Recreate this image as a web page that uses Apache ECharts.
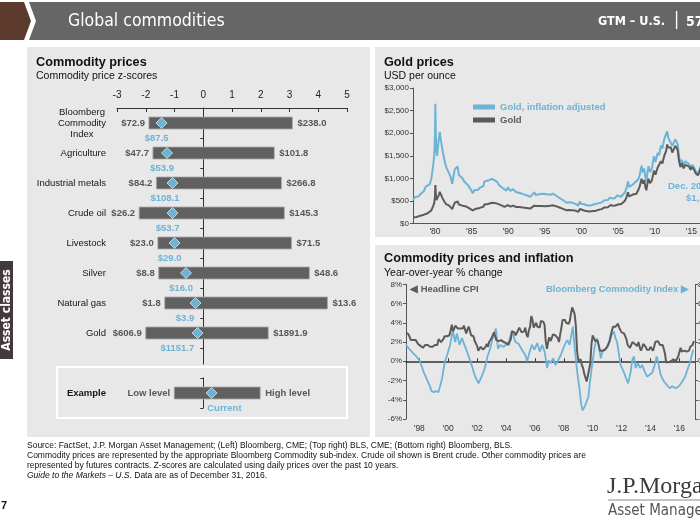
<!DOCTYPE html>
<html><head><meta charset="utf-8">
<script src="https://cdn.jsdelivr.net/npm/echarts@6.0.0/dist/echarts.min.js"></script>
<style>html,body{margin:0;padding:0;background:#fff;}#c{width:700px;height:525px;}</style>
</head><body><div id="c"></div><script>
// ---------- Left: commodity z-scores ----------
const categories = ['Bloomberg\nCommodity\nIndex', 'Agriculture', 'Industrial metals', 'Crude oil', 'Livestock', 'Silver', 'Natural gas', 'Gold', '', 'Example'];
const rowIndex   = [0, 1, 2, 3, 4, 5, 6, 7, 9];
const lowZ       = [-1.89, -1.75, -1.63, -2.23, -1.58, -1.55, -1.34, -2.00, -1.01];
const highZ      = [3.10, 2.47, 2.72, 2.82, 3.07, 3.69, 4.32, 2.26, 1.98];
const currentZ   = [-1.45, -1.26, -1.07, -1.07, -1.00, -0.60, -0.27, -0.20, 0.29];
const lowLabels  = ['$72.9', '$47.7', '$84.2', '$26.2', '$23.0', '$8.8', '$1.8', '$606.9', 'Low level'];
const highLabels = ['$238.0', '$101.8', '$266.8', '$145.3', '$71.5', '$48.6', '$13.6', '$1891.9', 'High level'];
const currentLabels = ['$87.5', '$53.9', '$108.1', '$53.7', '$29.0', '$16.0', '$3.9', '$1151.7', 'Current'];

// ---------- Top right: gold prices ----------
const goldYears = [1977.00,1977.25,1977.50,1977.75,1978.00,1978.25,1978.50,1978.75,1979.00,1979.25,1979.50,1979.75,1979.90,1980.00,1980.05,1980.12,1980.20,1980.30,1980.40,1980.55,1980.65,1980.80,1980.95,1981.10,1981.30,1981.50,1981.70,1981.90,1982.10,1982.35,1982.50,1982.70,1982.90,1983.10,1983.25,1983.50,1983.75,1984.00,1984.25,1984.50,1984.75,1985.00,1985.15,1985.40,1985.60,1985.85,1986.10,1986.35,1986.60,1986.75,1987.00,1987.25,1987.50,1987.75,1987.95,1988.10,1988.30,1988.50,1988.75,1989.00,1989.25,1989.50,1989.75,1989.95,1990.10,1990.30,1990.50,1990.65,1990.90,1991.10,1991.30,1991.50,1991.75,1992.00,1992.25,1992.50,1992.75,1993.00,1993.25,1993.55,1993.75,1994.00,1994.25,1994.50,1994.75,1995.00,1995.25,1995.50,1995.75,1996.05,1996.25,1996.50,1996.75,1997.00,1997.25,1997.50,1997.75,1997.95,1998.25,1998.50,1998.75,1999.00,1999.25,1999.55,1999.78,1999.95,2000.15,2000.35,2000.60,2000.85,2001.10,2001.35,2001.60,2001.75,2001.95,2002.25,2002.50,2002.75,2003.00,2003.15,2003.35,2003.60,2003.85,2004.00,2004.30,2004.60,2004.85,2005.10,2005.40,2005.60,2005.90,2006.10,2006.35,2006.50,2006.75,2007.00,2007.25,2007.50,2007.75,2007.95,2008.20,2008.40,2008.55,2008.75,2008.85,2009.00,2009.15,2009.35,2009.60,2009.90,2010.10,2010.40,2010.60,2010.85,2011.05,2011.30,2011.55,2011.70,2011.85,2012.00,2012.20,2012.40,2012.60,2012.80,2013.00,2013.15,2013.30,2013.50,2013.70,2013.95,2014.20,2014.45,2014.70,2014.90,2015.10,2015.35,2015.60,2015.90,2016.10,2016.35,2016.55,2016.75,2016.92];
const goldNominal = [132,148,143,158,173,172,195,225,227,245,290,385,455,600,850,640,520,500,560,640,700,650,590,540,480,430,440,400,370,320,335,460,445,490,420,415,395,370,378,345,330,305,290,318,328,322,345,342,370,420,402,432,448,460,485,455,452,440,410,408,385,368,366,405,415,372,355,395,378,365,357,366,358,355,341,345,340,330,345,395,362,385,380,385,390,380,390,385,385,405,390,385,380,355,345,325,322,292,300,292,296,288,280,256,320,285,300,280,275,265,265,268,275,285,278,300,318,318,350,355,330,360,395,410,390,400,440,425,425,440,500,560,690,600,590,640,680,660,740,820,990,880,960,790,735,880,990,890,950,1170,1080,1240,1200,1380,1330,1500,1600,1750,1680,1650,1680,1570,1610,1720,1670,1610,1400,1250,1330,1220,1300,1280,1260,1190,1250,1200,1110,1070,1130,1270,1350,1280,1150];
const goldReal = [530,580,560,600,650,640,720,820,810,860,980,1280,1500,1950,2650,1950,1580,1500,1680,1900,2030,1850,1700,1560,1400,1260,1270,1120,1050,880,900,1200,1160,1260,1080,1060,1000,930,940,850,790,720,670,740,760,740,790,780,830,930,890,950,970,990,1030,960,950,920,850,840,780,740,730,800,810,720,690,760,720,690,670,680,660,650,620,625,610,590,610,690,630,660,650,655,660,640,650,640,635,660,635,620,605,565,545,515,505,460,470,455,460,445,430,395,490,435,455,425,415,400,398,400,410,425,415,445,470,468,512,515,478,520,570,590,555,565,620,595,592,608,680,760,930,810,795,860,905,875,975,1070,1280,1130,1220,1000,930,1120,1270,1140,1210,1490,1360,1560,1510,1730,1660,1870,1980,2040,1900,1850,1880,1720,1760,1860,1800,1740,1500,1330,1410,1290,1380,1340,1310,1240,1300,1250,1150,1110,1180,1310,1390,1310,1150];
const goldTickYears = [1980, 1985, 1990, 1995, 2000, 2005, 2010, 2015];

// ---------- Bottom right: CPI and BCOM y/y ----------
const cpiYoY = [
 3.0,3.0,2.8,2.5,2.2,2.3,2.2,2.2,2.2,2.1,1.8,1.7,
 1.6,1.4,1.4,1.4,1.7,1.7,1.7,1.6,1.5,1.5,1.5,1.6,
 1.7,1.6,1.7,2.3,2.1,2.0,2.1,2.3,2.6,2.6,2.6,2.7,
 2.7,3.2,3.8,3.1,3.2,3.7,3.7,3.4,3.5,3.4,3.4,3.4,
 3.7,3.5,2.9,3.3,3.6,3.2,2.7,2.7,2.6,2.1,1.9,1.6,
 1.1,1.1,1.5,1.6,1.2,1.1,1.5,1.8,1.5,2.0,2.2,2.4,
 2.6,3.0,3.0,2.2,2.1,2.1,2.1,2.2,2.3,2.0,1.8,1.9,
 1.9,1.7,1.7,2.3,3.1,3.3,3.0,2.7,2.5,3.2,3.5,3.3,
 3.0,3.0,3.1,3.5,2.8,2.5,3.2,3.6,4.7,4.3,3.5,3.4,
 4.0,3.6,3.4,3.5,4.2,4.3,4.1,3.8,2.1,1.3,2.0,2.5,
 2.1,2.4,2.8,2.6,2.7,2.7,2.4,2.0,2.8,3.5,4.3,4.1,
 4.3,4.0,4.0,3.9,4.2,5.0,5.6,5.4,4.9,3.7,1.1,0.1,
 0.0,0.2,-0.4,-0.7,-1.3,-1.4,-2.1,-1.5,-1.3,-0.2,1.8,2.7,
 2.6,2.1,2.3,2.2,2.0,1.1,1.2,1.1,1.1,1.2,1.1,1.5,
 1.6,2.1,2.7,3.2,3.6,3.6,3.6,3.8,3.9,3.5,3.4,3.0,
 2.9,2.9,2.7,2.3,1.7,1.7,1.4,1.7,2.0,2.2,1.8,1.7,
 1.6,2.0,1.5,1.1,1.4,1.8,2.0,1.5,1.2,1.0,1.2,1.5,
 1.6,1.1,1.5,2.0,2.1,2.1,2.0,1.7,1.7,1.7,1.3,0.8,
 -0.1,0.0,-0.1,-0.2,0.0,0.1,0.2,0.2,0.0,0.2,0.5,0.7,
 1.4,1.0,0.9,1.1,1.0,1.0,0.8,1.1,1.5,1.6,1.7,2.1];
const cpiStartYear = 1997;
const bcomYears = [1997.07,1997.35,1997.6,1997.8,1998.05,1998.3,1998.5,1998.74,1998.85,1999.0,1999.15,1999.32,1999.44,1999.56,1999.67,1999.79,1999.9,2000.13,2000.32,2000.48,2000.6,2000.78,2000.95,2001.18,2001.4,2001.64,2001.87,2002.1,2002.2,2002.45,2002.57,2002.72,2002.9,2003.1,2003.3,2003.45,2003.6,2003.84,2003.96,2004.18,2004.42,2004.65,2004.88,2005.1,2005.35,2005.46,2005.64,2005.8,2005.97,2006.16,2006.34,2006.5,2006.67,2006.85,2006.96,2007.08,2007.27,2007.43,2007.6,2007.78,2007.9,2008.06,2008.24,2008.4,2008.52,2008.63,2008.75,2008.86,2008.97,2009.1,2009.21,2009.3,2009.45,2009.58,2009.7,2009.8,2009.93,2010.05,2010.16,2010.28,2010.44,2010.56,2010.68,2010.88,2011.1,2011.3,2011.46,2011.58,2011.69,2011.81,2011.93,2012.09,2012.27,2012.45,2012.62,2012.73,2012.85,2012.97,2013.13,2013.27,2013.43,2013.6,2013.77,2013.94,2014.12,2014.29,2014.43,2014.54,2014.7,2014.93,2015.16,2015.33,2015.5,2015.74,2015.97,2016.2,2016.39,2016.55,2016.72,2016.85,2016.96];
const bcomYoY = [17,12,8,5,0,-11,-18,-26,-31,-32,-31,-32,-26,-19,-9,1,5,17,32,20,29,17,24,15,6,-5,-16,-23,-21,-11,-5,5,13,25,34,13,17,15,13,20,32,20,18,12,6,0,10,17,12,19,10,17,10,-7,1,-2,3,-4,1,6,5,17,22,17,27,36,15,-2,-16,-30,-45,-51,-47,-45,-37,-23,-7,6,17,24,15,3,10,12,17,27,31,24,20,8,-4,-9,-16,-23,-12,1,5,-7,-2,-7,-4,-11,-16,-14,-12,-4,5,-2,-14,-21,-25,-28,-26,-28,-26,-21,-16,-9,-2,6,12];
const cpiTickYears = [1998, 2000, 2002, 2004, 2006, 2008, 2010, 2012, 2014, 2016];

// ---------- styling ----------
const F = '"Liberation Sans", Arial, sans-serif';
const FN = '"Liberation Sans Narrow", "DejaVu Sans Condensed", sans-serif';
const BLUE = '#6cb3d6';
const DARK = '#5b5b5b';
const PANEL = '#e8e8e8';
const yr = v => "'" + String(v).slice(2);

const rowData = rowIndex.map((r, i) => [r, lowZ[i], highZ[i], currentZ[i]]);
const goldRealData = goldYears.map((y, i) => [y, goldReal[i]]);
const goldNomData = goldYears.map((y, i) => [y, goldNominal[i]]);
const cpiData = cpiYoY.map((v, i) => [cpiStartYear + (i + 1) / 12, v]);
const bcomData = bcomYears.map((y, i) => [y, bcomYoY[i]]);

function renderRow(params, api) {
  const i = params.dataIndex;
  const row = api.value(0), lo = api.value(1), hi = api.value(2), cu = api.value(3);
  const p0 = api.coord([lo, row]), p1 = api.coord([hi, row]), pc = api.coord([cu, row]), pz = api.coord([0, row]);
  const band = api.size([0, 1])[1];
  const h = band * 0.4;
  const d = 5.5;
  const txt = (t, x, y, align, color) => ({
    type: 'text',
    style: { text: t, x: x, y: y, align: align, textAlign: align, verticalAlign: 'middle', textVerticalAlign: 'middle',
             fontSize: 9.5, fontWeight: 'bold', fontFamily: F, fill: color }
  });
  const curX = cu < 0 ? Math.min(pc[0] + 7, pz[0] - 9) : pz[0] + 4;
  return {
    type: 'group',
    children: [
      { type: 'rect', shape: { x: p0[0], y: p0[1] - h / 2, width: p1[0] - p0[0], height: h },
        style: { fill: '#606060', stroke: '#a9a9a9', lineWidth: 0.8 } },
      txt(lowLabels[i], p0[0] - 4, p0[1], 'right', '#575757'),
      txt(highLabels[i], p1[0] + 5, p1[1], 'left', '#575757'),
      { type: 'polygon', shape: { points: [[pc[0], pc[1] - d], [pc[0] + d, pc[1]], [pc[0], pc[1] + d], [pc[0] - d, pc[1]]] },
        style: { fill: BLUE, stroke: '#d4e9f3', lineWidth: 0.8 } },
      txt(currentLabels[i], curX, pc[1] + band / 2, cu < 0 ? 'right' : 'left', BLUE)
    ]
  };
}

const T = (text, x, y, o) => Object.assign({ type: 'text', x: x, y: y, style: Object.assign({ text: text, fontFamily: F, fontSize: 10, fill: '#111', verticalAlign: 'middle', textVerticalAlign: 'middle' }, o || {}) });

const graphics = [
  // panels
  { type: 'rect', z: -100, shape: { x: 27, y: 47, width: 343, height: 390 }, style: { fill: PANEL } },
  { type: 'rect', z: -100, shape: { x: 375, y: 47, width: 325, height: 190 }, style: { fill: PANEL } },
  { type: 'rect', z: -100, shape: { x: 375, y: 245, width: 325, height: 192 }, style: { fill: PANEL } },
  // header
  { type: 'polygon', shape: { points: [[0, 2], [24, 2], [31, 21], [24, 40], [0, 40]] }, style: { fill: '#5b3a2c' } },
  { type: 'polygon', shape: { points: [[29, 2], [700, 2], [700, 40], [29, 40], [36, 21]] }, style: { fill: '#666666' } },
  T('Global commodities', 68, 21, { fontFamily: FN, fontSize: 17.5, fill: '#fff' }),
  T('GTM – U.S.', 598, 22, { fontFamily: FN, fontSize: 12.5, fontWeight: 'bold', fill: '#fff' }),
  T('|', 674, 21, { fontFamily: FN, fontSize: 17, fill: '#fff' }),
  T('57', 686, 22, { fontFamily: FN, fontSize: 14, fontWeight: 'bold', fill: '#fff' }),
  // side tab
  { type: 'rect', shape: { x: 0, y: 261, width: 13, height: 98 }, style: { fill: '#44393a' } },
  { type: 'text', x: 7, y: 310, rotation: Math.PI / 2, style: { text: 'Asset classes', fontFamily: FN, fontSize: 12, fontWeight: 'bold', fill: '#fff', align: 'center', textAlign: 'center', verticalAlign: 'middle', textVerticalAlign: 'middle' } },
  // panel titles
  T('Commodity prices', 36, 62, { fontSize: 12.7, fontWeight: 'bold' }),
  T('Commodity price z-scores', 36, 76, { fontSize: 10.5 }),
  T('Gold prices', 384, 62, { fontSize: 12.7, fontWeight: 'bold' }),
  T('USD per ounce', 384, 76, { fontSize: 10.5 }),
  T('Commodity prices and inflation', 384, 258, { fontSize: 12.7, fontWeight: 'bold' }),
  T('Year-over-year % change', 384, 273, { fontSize: 10.5 }),
  // example box (axis gap + white frame)
  { type: 'rect', z: 50, shape: { x: 198, y: 364.5, width: 10, height: 13 }, style: { fill: PANEL } },
  { type: 'rect', z: 60, shape: { x: 57, y: 367, width: 290, height: 51 }, style: { fill: 'none', stroke: '#ffffff', lineWidth: 2 } },
  // bottom chart series labels
  T('◀ Headline CPI', 410, 289.5, { fontSize: 9.5, fontWeight: 'bold', fill: DARK }),
  T('Bloomberg Commodity Index ▶', 689, 289.5, { fontSize: 9.5, fontWeight: 'bold', fill: BLUE, align: 'right', textAlign: 'right' }),
  // gold annotation
  { type: 'text', x: 715, y: 181, style: { text: 'Dec. 2016:\n$1,152', fontFamily: F, fontSize: 9.5, fontWeight: 'bold', fill: BLUE, align: 'right', textAlign: 'right', verticalAlign: 'top', textVerticalAlign: 'top', lineHeight: 11.6 } },
  // footer
  T('Source: FactSet, J.P. Morgan Asset Management; (Left) Bloomberg, CME; (Top right) BLS, CME; (Bottom right) Bloomberg, BLS.', 27, 446, { fontSize: 8.5 }),
  T('Commodity prices are represented by the appropriate Bloomberg Commodity sub-index. Crude oil shown is Brent crude. Other commodity prices are', 27, 456, { fontSize: 8.5 }),
  T('represented by futures contracts. Z-scores are calculated using daily prices over the past 10 years.', 27, 466, { fontSize: 8.5 }),
  T('{i|Guide to the Markets – U.S.} Data are as of December 31, 2016.', 27, 476, { fontSize: 8.5, rich: { i: { fontStyle: 'italic', fontSize: 8.5, fontFamily: F, fill: '#111' } } }),
  T('7', 1, 506, { fontSize: 11, fontWeight: 'bold' }),
  // logo
  T('J.P.Morgan', 607, 487, { fontFamily: '"Liberation Serif", serif', fontSize: 24, fill: '#3b3b3b' }),
  { type: 'line', shape: { x1: 608, y1: 500, x2: 700, y2: 500 }, style: { stroke: '#8a8a8a', lineWidth: 1 } },
  T('Asset Management', 608, 511, { fontFamily: FN, fontSize: 15, fill: '#555' })
];

const chart = echarts.init(document.getElementById('c'), null, { renderer: 'canvas' });
chart.setOption({
  animation: false,
  textStyle: { fontFamily: F },
  graphic: { elements: graphics },
  legend: {
    data: [{ name: 'Gold, inflation adjusted', textStyle: { color: BLUE } }, { name: 'Gold', textStyle: { color: DARK } }],
    orient: 'vertical', left: 473, top: 102, itemWidth: 22, itemHeight: 5, itemGap: 3, icon: 'rect', padding: 0,
    textStyle: { fontSize: 9.5, fontWeight: 'bold', fontFamily: F }
  },
  grid: [
    { left: 117, top: 108, width: 230, height: 300, outerBoundsMode: 'none' },
    { left: 413, top: 88, width: 293, height: 135.5, outerBoundsMode: 'none' },
    { left: 406, top: 284.3, width: 289, height: 134.7, outerBoundsMode: 'none' }
  ],
  xAxis: [
    { gridIndex: 0, type: 'value', position: 'top', min: -3, max: 5, interval: 1,
      axisLine: { show: true, lineStyle: { color: '#333', width: 1 } },
      axisTick: { show: true, inside: true, length: 4, lineStyle: { color: '#333' } },
      axisLabel: { fontSize: 10, color: '#222', margin: 8 }, splitLine: { show: false } },
    { gridIndex: 1, type: 'value', min: 1977, max: 2017,
      axisLine: { show: true, lineStyle: { color: '#555' } }, axisTick: { show: false },
      axisLabel: { customValues: goldTickYears, formatter: yr, fontSize: 8.5, color: '#333', margin: 4 }, splitLine: { show: false } },
    { gridIndex: 2, type: 'value', min: 1997.08, max: 2017.08,
      axisLine: { show: false, onZero: false }, axisTick: { show: false },
      axisLabel: { customValues: cpiTickYears, formatter: yr, fontSize: 8.5, color: '#333', margin: 5 }, splitLine: { show: false } },
    { gridIndex: 2, type: 'value', min: 1997.08, max: 2017.08,
      axisLine: { show: true, onZero: true, lineStyle: { color: '#333', width: 1.5 } },
      axisTick: { show: true, customValues: cpiTickYears, length: 3, lineStyle: { color: '#333' } },
      axisLabel: { show: false }, splitLine: { show: false } }
  ],
  yAxis: [
    { gridIndex: 0, type: 'category', data: categories, inverse: true, position: 'left',
      axisLine: { show: false, onZero: false }, axisTick: { show: false },
      axisLabel: { margin: 11, fontSize: 9.5, color: '#151515', interval: 0,
        formatter: v => v === 'Example' ? '{b|Example}' : (v.indexOf('\n') >= 0 ? v.split('\n').map(s => '{c|' + s + '}').join('\n') : v),
        rich: { b: { fontWeight: 'bold', fontSize: 9.5, color: '#151515' }, c: { align: 'center', fontSize: 9.5, color: '#151515', lineHeight: 11 } } } },
    { gridIndex: 0, type: 'category', data: categories, inverse: true, position: 'left',
      axisLine: { show: true, onZero: true, lineStyle: { color: '#333', width: 1 } },
      axisTick: { show: true, length: 3, lineStyle: { color: '#333' } },
      axisLabel: { show: false } },
    { gridIndex: 1, type: 'value', min: 0, max: 3000, interval: 500,
      axisLine: { show: true, lineStyle: { color: '#555' } },
      axisTick: { show: true, length: 3, lineStyle: { color: '#555' } },
      axisLabel: { fontSize: 8, color: '#333', margin: 4, formatter: v => '$' + v.toLocaleString('en-US') },
      splitLine: { show: false } },
    { gridIndex: 2, type: 'value', min: -6, max: 8, interval: 2,
      axisLine: { show: true, lineStyle: { color: '#555' } },
      axisTick: { show: true, length: 3, lineStyle: { color: '#555' } },
      axisLabel: { fontSize: 8, color: '#333', margin: 4, formatter: '{value}%' }, splitLine: { show: false } },
    { gridIndex: 2, type: 'value', min: -60, max: 80, interval: 20, position: 'right',
      axisLine: { show: true, lineStyle: { color: '#555' } },
      axisTick: { show: true, length: 3, lineStyle: { color: '#555' } },
      axisLabel: { fontSize: 8, color: '#333', margin: 3, formatter: '{value}%' }, splitLine: { show: false } }
  ],
  series: [
    { type: 'custom', xAxisIndex: 0, yAxisIndex: 0, renderItem: renderRow, data: rowData, z: 5 },
    { name: 'Gold, inflation adjusted', type: 'line', xAxisIndex: 1, yAxisIndex: 2, data: goldRealData,
      showSymbol: false, symbol: 'none', lineStyle: { color: BLUE, width: 2 }, itemStyle: { color: BLUE } },
    { name: 'Gold', type: 'line', xAxisIndex: 1, yAxisIndex: 2, data: goldNomData,
      showSymbol: false, symbol: 'none', lineStyle: { color: DARK, width: 2 }, itemStyle: { color: DARK } },
    { name: 'Headline CPI', type: 'line', xAxisIndex: 2, yAxisIndex: 3, data: cpiData,
      showSymbol: false, symbol: 'none', lineStyle: { color: DARK, width: 2 }, itemStyle: { color: DARK }, z: 4 },
    { name: 'Bloomberg Commodity Index', type: 'line', xAxisIndex: 2, yAxisIndex: 4, data: bcomData,
      showSymbol: false, symbol: 'none', lineStyle: { color: BLUE, width: 1.8 }, itemStyle: { color: BLUE }, z: 3 }
  ]
});
</script></body></html>
